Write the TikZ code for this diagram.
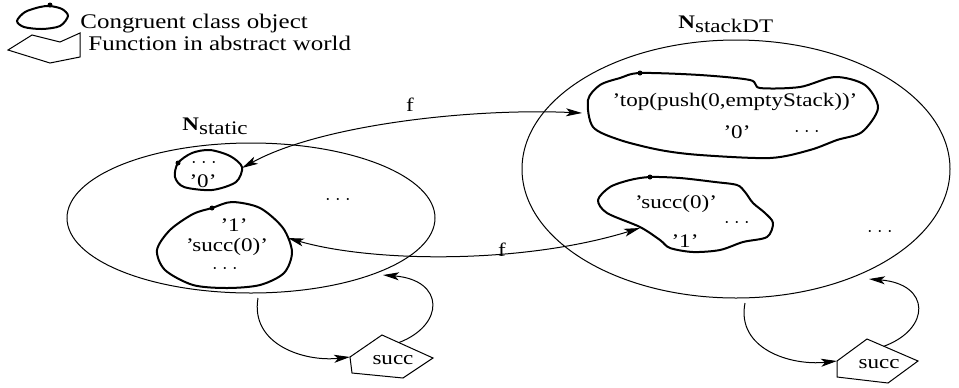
\documentclass[tikz,border=0pt]{standalone}
\usepackage{fontspec}
\setmainfont{Liberation Serif}[FakeStretch=1.2]
\usetikzlibrary{shapes.geometric,arrows.meta,calc}

\begin{document}
\begin{tikzpicture}[x=0.5pt,y=-0.5pt,>={Stealth[length=8pt,width=4pt,inset=2pt]},font=\fontsize{9.6}{11}\selectfont]
    \tikzstyle{world}=[draw,ellipse,line width=0.5pt,inner sep=0pt]
    \tikzstyle{cls}=[line width=1pt]
    \tikzstyle{fun}=[line width=0.5pt]
    \tikzstyle{fmap}=[<->,line width=0.5pt]
    \tikzstyle{selfmap}=[->,line width=0.5pt]
    \tikzstyle{legend}=[anchor=base west,inner sep=0pt,font=\fontsize{10.4}{12}\selectfont]
    \tikzstyle{txt}=[inner sep=0pt]
    \tikzstyle{dots}=[inner sep=0pt,text height=3pt,text depth=0pt]

    \useasboundingbox (0,0) rectangle (959,387);

    % Legend
    \draw[cls] plot[smooth cycle] coordinates {(17,21) (25,12) (40,7) (50,6) (62,9) (68,16) (60,26) (42,29) (24,27)};
    \fill (50,5) circle (2.5);
    \node[legend] (legA) at (80,28) {Congruent class object};
    \draw[fun] (8,50) -- (32,35) -- (60,42) -- (80,33) -- (80,57) -- (50,63) -- cycle;
    \node[legend] (legB) at (88,50) {Function in abstract world};

    % The two worlds
    \node[world,minimum width=184pt,minimum height=75pt] (Wstatic) at (251,218) {};
    \node[world,minimum width=214pt,minimum height=129pt] (WstackDT) at (736,169) {};
    \node[anchor=base west,inner sep=0pt] (Nstatic) at (182,130) {\textbf{N}\raisebox{-.5ex}{static}};
    \node[anchor=base west,inner sep=0pt] (NstackDT) at (678,28) {\textbf{N}\raisebox{-.5ex}{stackDT}};
    \node[dots] (moreS) at (338,201) {$\cdot\cdot\cdot$};
    \node[dots] (moreD) at (880,233) {$\cdot\cdot\cdot$};

    % Congruent classes in N_static
    \draw[cls] plot[smooth cycle] coordinates {(178,163) (192,153) (210,150) (230,156) (242,167) (236,182) (212,190) (184,187) (175,177)};
    \fill (178,163) circle (2.5);
    \node[dots] (zS1) at (204,164) {$\cdot\cdot\cdot$};
    \node[txt] (zS2) at (203,181) {'0'};
    \draw[cls] plot[smooth cycle] coordinates {(212,208) (232,202) (260,208) (283,228) (292,252) (284,273) (260,285) (227,288) (193,285) (165,270) (157,250) (170,230) (193,214)};
    \fill (212,208) circle (2.5);
    \node[txt] (oS1) at (234,225) {'1'};
    \node[txt] (oS2) at (227,247) {'succ(0)'};
    \node[dots] (oS3) at (225,270) {$\cdot\cdot\cdot$};

    % Congruent classes in N_stackDT
    \draw[cls] plot[smooth cycle] coordinates {(640,73) (700,75) (750,80) (760,88) (800,87) (835,77) (865,85) (878,108) (862,132) (837,140) (810,150) (770,158) (700,155) (660,150) (620,140) (593,127) (588,100) (600,85) (620,78)};
    \fill (640,73) circle (2.5);
    \node[txt] (zD1) at (735,102) {'top(push(0,emptyStack))'};
    \node[txt] (zD2) at (737,132) {'0'};
    \node[dots] (zD3) at (807,133) {$\cdot\cdot\cdot$};
    \draw[cls] plot[smooth cycle] coordinates {(650,177) (680,178) (715,182) (737,185) (745,192) (753,203) (765,213) (773,223) (767,237) (743,242) (720,250) (693,252) (670,248) (660,240) (640,227) (607,213) (598,200) (610,187) (630,180)};
    \fill (650,177) circle (2.5);
    \node[txt] (oD1) at (676,204) {'succ(0)'};
    \node[dots] (oD2) at (737,224) {$\cdot\cdot\cdot$};
    \node[txt] (oD3) at (685,241) {'1'};

    % f between the worlds
    \coordinate (zeroS) at (242,168);
    \coordinate (zeroD) at (582,113);
    \coordinate (oneS) at (288,238);
    \coordinate (oneD) at (640,228);
    \draw[fmap] (zeroS) .. controls (320,125) and (470,108) .. (zeroD);
    \draw[fmap] (oneS) .. controls (370,262) and (520,265) .. (oneD);
    \node[txt] (fA) at (410,105) {f};
    \node[txt] (fB) at (502,250) {f};

    % succ on both sides
    \node[txt] (succL) at (393,360) {succ};
    \draw[fun,shift={(succL.center)}] (-43,-3) coordinate (succLw) -- (-11,-25) coordinate (succLn) -- (40,-2) coordinate (succLe) -- (10,18) -- (-41,13) -- cycle;
    \node[txt] (succR) at (879,364) {succ};
    \draw[fun,shift={(succR.center)}] (-42,-3) coordinate (succRw) -- (-12,-25) coordinate (succRn) -- (39,-3) coordinate (succRe) -- (9,19) -- (-42,13) -- cycle;

    \coordinate (outS) at (258,298);
    \coordinate (backS) at (383,275);
    \coordinate (outD) at (745,303);
    \coordinate (backD) at (869,279);
    \draw[selfmap] (outS) .. controls (250,345) and (305,362) .. (succLw);
    \draw[selfmap] ($(succLn)!.33!(succLe)$) .. controls (445,325) and (445,280) .. (backS);
    \draw[selfmap] (outD) .. controls (736,349) and (791,366) .. (succRw);
    \draw[selfmap] ($(succRn)!.33!(succRe)$) .. controls (931,329) and (931,284) .. (backD);
\end{tikzpicture}
\end{document}
